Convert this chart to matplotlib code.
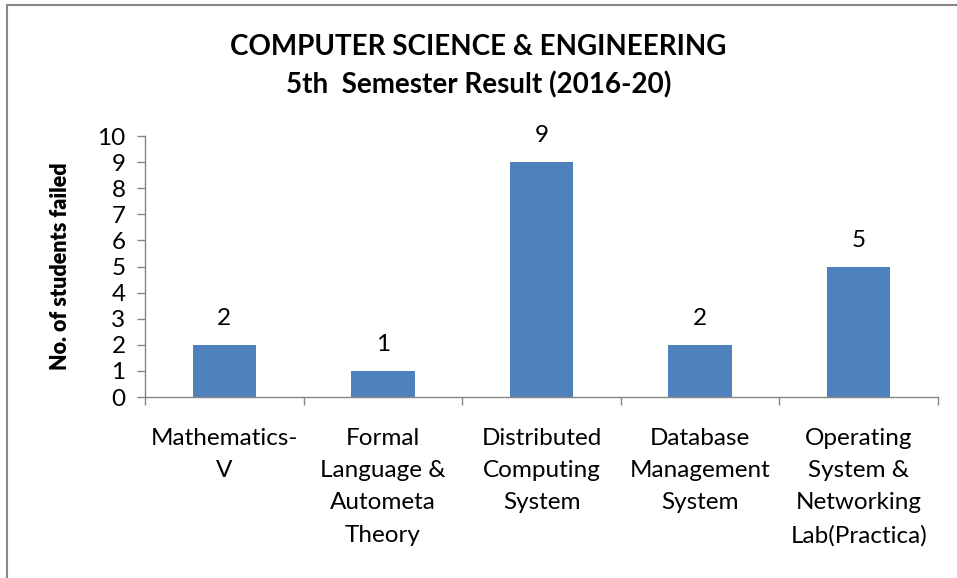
import matplotlib.pyplot as plt
from matplotlib.lines import Line2D

# data
subjects = ["Mathematics-\nV", "Formal\nLanguage &\nAutometa\nTheory",
            "Distributed\nComputing\nSystem", "Database\nManagement\nSystem",
            "Operating\nSystem &\nNetworking\nLab(Practica)"]
failed = [2, 1, 9, 2, 5]
yticks = list(range(0, 11))

plt.rcParams['font.family'] = ['Lato', 'DejaVu Sans']

fig = plt.figure(figsize=(9.57, 5.78), dpi=100)
ax = fig.add_axes([145 / 957, 1 - 397 / 578, (938 - 145) / 957, (397 - 136) / 578])

pos = list(range(len(subjects)))
bars = ax.bar(pos, failed, width=0.4, color='#4F81BD')

for x, v in zip(pos, failed):
    ax.annotate(str(v), (x, v), xytext=(0, 19), textcoords='offset points',
                ha='center', va='center', fontsize=17.5)

ax.set_xlim(-0.5, len(subjects) - 0.5)
ax.set_ylim(0, 10)
ax.set_yticks(yticks)
ax.tick_params(axis='y', labelsize=17.5, length=6, width=1, color='#868686', pad=8)

ax.set_xticks(pos)
ax.set_xticklabels(subjects, fontsize=17.5, linespacing=1.67, va='top')
ax.tick_params(axis='x', which='major', length=0, pad=22)
ax.set_xticks([p - 0.5 for p in range(len(subjects) + 1)], minor=True)
ax.tick_params(axis='x', which='minor', length=6, width=1, color='#868686')

for s in ['top', 'right']:
    ax.spines[s].set_visible(False)
for s in ['left', 'bottom']:
    ax.spines[s].set_color('#868686')
    ax.spines[s].set_linewidth(1)

ax.set_ylabel("No. of students failed", fontsize=15.5, fontweight='heavy', labelpad=19)

fig.text(0.5, 1 - 47 / 578, "COMPUTER SCIENCE & ENGINEERING",
         ha='center', va='center', fontsize=20, fontweight='bold')
fig.text(0.5, 1 - 85 / 578, "5th  Semester Result (2016-20)",
         ha='center', va='center', fontsize=20, fontweight='bold')

# chart area border (left and top edges visible)
fig.add_artist(Line2D([7 / 957, 7 / 957], [0, 1 - 5 / 578], color='#868686', lw=1.5,
                      transform=fig.transFigure))
fig.add_artist(Line2D([7 / 957, 1], [1 - 5 / 578, 1 - 5 / 578], color='#868686', lw=1.5,
                      transform=fig.transFigure))

fig.savefig("out.png", dpi=100)
